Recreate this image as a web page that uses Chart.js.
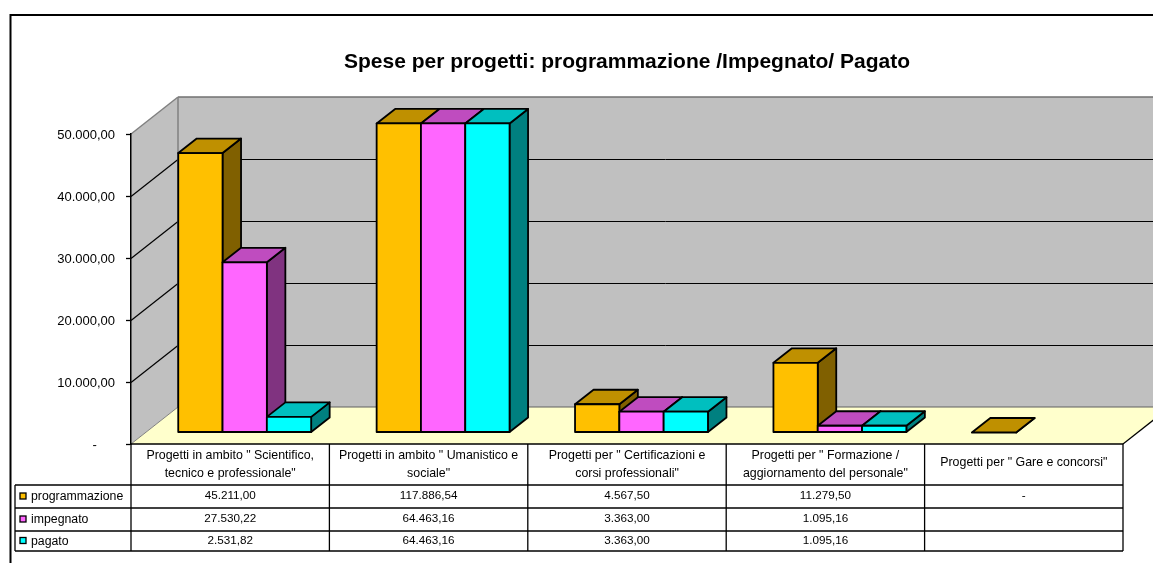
<!DOCTYPE html>
<html><head><meta charset="utf-8">
<style>html,body{margin:0;padding:0;background:#fff;overflow:hidden}canvas{display:block}</style>
<script src="https://cdn.jsdelivr.net/npm/chart.js@4/dist/chart.umd.min.js"></script>
</head><body>
<canvas id="c" width="1153" height="563"></canvas>
<script>
const categories = [
  ['Progetti in ambito " Scientifico,', 'tecnico e professionale"'],
  ['Progetti in ambito " Umanistico e', 'sociale"'],
  ['Progetti per " Certificazioni e', 'corsi professionali"'],
  ['Progetti per " Formazione /', 'aggiornamento del personale"'],
  ['Progetti per " Gare e concorsi"']
];
const seriesNames = ['programmazione', 'impegnato', 'pagato'];
const programmazione = [45211.00, 117886.54, 4567.50, 11279.50, 0];
const impegnato = [27530.22, 64463.16, 3363.00, 1095.16, null];
const pagato = [2531.82, 64463.16, 3363.00, 1095.16, null];
const frontColors = ['#FFC000', '#FF66FF', '#00FFFF'];
const topColors = ['#BF9000', '#BF4CBF', '#00BFBF'];
const sideColors = ['#806000', '#803380', '#008080'];
const titleText = 'Spese per progetti: programmazione /Impegnato/ Pagato';
const FONT = '"Liberation Sans", Arial, sans-serif';

function fmt(v) {
  if (v === null) return '';
  if (v === 0) return '-';
  const [i, d] = v.toFixed(2).split('.');
  return i.replace(/\B(?=(\d{3})+$)/g, '.') + ',' + d;
}

const wall = {dx: 47, dy: 37};
const barPlane = {dx: 14.5, dy: 11.5, yScale: 0.997};
const barDepth = {dx: 18.5, dy: 14.5};
const tableRows = [485, 508, 531, 551];
const tableLeft = 15;

function poly(ctx, pts, fill, stroke, lw) {
  ctx.beginPath();
  pts.forEach((p, i) => i ? ctx.lineTo(p[0], p[1]) : ctx.moveTo(p[0], p[1]));
  ctx.closePath();
  if (fill) { ctx.fillStyle = fill; ctx.fill(); }
  if (stroke) { ctx.strokeStyle = stroke; ctx.lineWidth = lw; ctx.stroke(); }
}
function seg(ctx, x1, y1, x2, y2, color, lw) {
  ctx.beginPath(); ctx.moveTo(x1, y1); ctx.lineTo(x2, y2);
  ctx.strokeStyle = color; ctx.lineWidth = lw; ctx.stroke();
}

const scene = {
  id: 'scene',
  beforeDraw(chart) {
    const ctx = chart.ctx, a = chart.chartArea, y = chart.scales.y;
    const W = chart.width, d = wall;
    ctx.save();
    // outer frame
    seg(ctx, 10.5, 15, W, 15, '#000', 2);
    seg(ctx, 10.5, 14, 10.5, chart.height, '#000', 2);
    // left wall, back wall, floor
    const far = a.right + d.dx;
    poly(ctx, [[a.left, a.top], [a.left + d.dx, a.top - d.dy], [a.left + d.dx, a.bottom - d.dy], [a.left, a.bottom]], '#C0C0C0');
    ctx.fillStyle = '#C0C0C0';
    ctx.fillRect(a.left + d.dx, a.top - d.dy, W - a.left - d.dx, a.bottom - a.top);
    poly(ctx, [[a.left, a.bottom], [a.left + d.dx, a.bottom - d.dy], [far, a.bottom - d.dy], [a.right, a.bottom]], '#FFFFCC');
    // gridlines on both walls
    y.ticks.forEach((t, i) => {
      const py = Math.round(y.getPixelForTick(i)) + 0.5;
      if (t.value > 0 && t.value < y.max) {
        seg(ctx, a.left, py, a.left + d.dx, py - d.dy, '#000', 1.2);
        seg(ctx, a.left + d.dx, py - d.dy, W, py - d.dy, '#000', 1);
      }
    });
    // wall edges
    seg(ctx, a.left, a.top, a.left + d.dx, a.top - d.dy, '#808080', 1.5);
    seg(ctx, a.left + d.dx, a.top - d.dy, W, a.top - d.dy, '#707070', 1.5);
    seg(ctx, a.left + d.dx, a.top - d.dy, a.left + d.dx, a.bottom - d.dy, '#808080', 1.5);
    seg(ctx, a.left + d.dx, a.bottom - d.dy, W, a.bottom - d.dy, '#606060', 1.2);
    seg(ctx, a.left, a.bottom, a.left + d.dx, a.bottom - d.dy, '#808080', 1);
    seg(ctx, a.right, a.bottom, far, a.bottom - d.dy, '#000', 1.2);
    ctx.restore();
  },
  beforeDatasetsDraw(chart) {
    const ctx = chart.ctx, a = chart.chartArea;
    ctx.save();
    ctx.lineJoin = 'round';
    const dark = '#000', lw = 1.8;
    chart.data.datasets.forEach((ds, di) => {
      chart.getDatasetMeta(di).data.forEach((el, i) => {
        if (ds.data[i] === null) return;
        const hw = el.width / 2;
        const l = el.x - hw + barPlane.dx, r = el.x + hw + barPlane.dx;
        const b = el.base - barPlane.dy;
        const t = b - (el.base - Math.max(el.y, a.top)) * barPlane.yScale;
        const bx = barDepth.dx, by = barDepth.dy;
        poly(ctx, [[r, t], [r + bx, t - by], [r + bx, b - by], [r, b]], sideColors[di], dark, lw);
        poly(ctx, [[l, t], [l + bx, t - by], [r + bx, t - by], [r, t]], topColors[di], dark, lw);
        if (b - t > 0.5) poly(ctx, [[l, t], [r, t], [r, b], [l, b]], ds.backgroundColor, dark, lw);
      });
    });
    ctx.restore();
    return false;
  },
  afterDraw(chart) {
    const ctx = chart.ctx, a = chart.chartArea, x = chart.scales.x;
    const cw = x.width / categories.length;
    const rows = [programmazione, impegnato, pagato];
    ctx.save();
    // table grid
    seg(ctx, a.left, a.bottom, a.right, a.bottom, '#000', 1.5);
    tableRows.forEach(yy => seg(ctx, tableLeft, yy, a.right, yy, '#000', 1.3));
    seg(ctx, tableLeft, tableRows[0], tableLeft, tableRows[3], '#000', 1.3);
    seg(ctx, a.left, a.bottom, a.left, tableRows[3], '#000', 1.3);
    ctx.textBaseline = 'middle';
    categories.forEach((lines, i) => {
      const cx = x.getPixelForValue(i), xr = cx + cw / 2;
      seg(ctx, xr, a.bottom, xr, tableRows[3], '#000', 1.3);
      ctx.fillStyle = '#000';
      ctx.textAlign = 'center';
      ctx.font = '12.4px ' + FONT;
      if (lines.length === 2) {
        ctx.fillText(lines[0], cx, 455.5);
        ctx.fillText(lines[1], cx, 473.5);
      } else {
        ctx.fillText(lines[0], cx, 463);
      }
      ctx.font = '11.7px ' + FONT;
      rows.forEach((vals, r) => {
        ctx.fillText(fmt(vals[i]), cx, (tableRows[r] + tableRows[r + 1]) / 2 - 0.5);
      });
    });
    // legend keys in the table
    seriesNames.forEach((name, r) => {
      const my = (tableRows[r] + tableRows[r + 1]) / 2;
      ctx.fillStyle = frontColors[r];
      ctx.strokeStyle = '#000';
      ctx.lineWidth = 1.3;
      ctx.fillRect(20, my - 3.5, 6, 6);
      ctx.strokeRect(20, my - 3.5, 6, 6);
      ctx.fillStyle = '#000';
      ctx.textAlign = 'left';
      ctx.font = '12.3px ' + FONT;
      ctx.fillText(name, 31, my + 0.5);
    });
    ctx.restore();
  }
};

new Chart(document.getElementById('c'), {
  type: 'bar',
  data: {
    labels: categories.map(c => c.join(' ')),
    datasets: seriesNames.map((n, i) => ({
      label: n,
      data: [programmazione, impegnato, pagato][i],
      backgroundColor: frontColors[i],
      categoryPercentage: 0.67,
      barPercentage: 1
    }))
  },
  plugins: [scene],
  options: {
    responsive: false,
    animation: false,
    layout: {padding: {left: 0, right: 30, top: 0, bottom: 119}},
    plugins: {
      legend: {display: false},
      tooltip: {enabled: false},
      title: {
        display: true,
        text: titleText,
        fullSize: false,
        color: '#000',
        font: {family: FONT, size: 21, weight: 'bold', lineHeight: 1.2},
        padding: {top: 50, bottom: 58.8}
      }
    },
    scales: {
      x: {display: false},
      y: {
        min: 0, max: 50000,
        afterFit(s) { s.width = 131; },
        ticks: {
          stepSize: 10000,
          color: '#000',
          padding: 11,
          labelOffset: 1,
          font: {family: FONT, size: 13},
          callback: v => v === 0 ? '-     ' : fmt(v)
        },
        grid: {drawOnChartArea: false, drawTicks: true, tickLength: 5, tickColor: '#000', tickWidth: 1.3},
        border: {color: '#000', width: 1.5}
      }
    }
  }
});
</script>
</body></html>
